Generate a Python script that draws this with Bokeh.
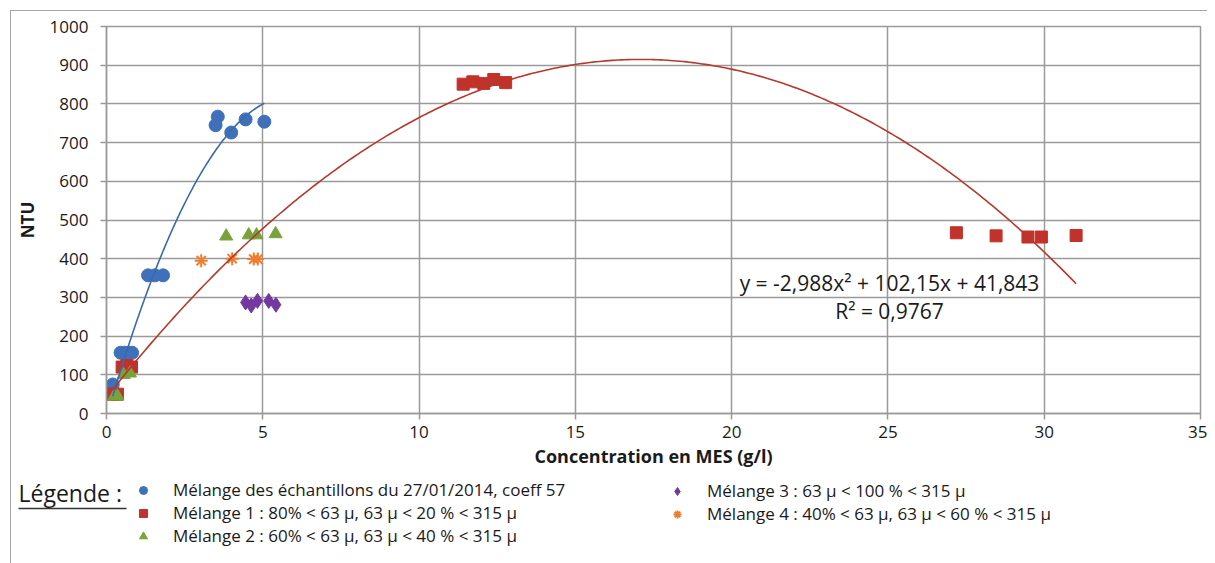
import numpy as np
from bokeh.plotting import figure
from bokeh.layouts import column, row
from bokeh.models import FixedTicker, Legend, LegendItem, Label, Range1d
from bokeh.embed import file_html
from bokeh.resources import INLINE

# ---------------- data ----------------
x_ticks = [0, 5, 10, 15, 20, 25, 30, 35]
y_ticks = [0, 100, 200, 300, 400, 500, 600, 700, 800, 900, 1000]

blue_label = "Mélange des échantillons du 27/01/2014, coeff 57"
blue_x = [0.2, 0.45, 0.58, 0.7, 0.82, 1.33, 1.55, 1.81, 3.49, 3.56, 3.99, 4.45, 5.05]
blue_y = [75, 157, 157, 157, 157, 357, 357, 357, 745, 767, 726, 760, 754]

m1_label = "Mélange 1 : 80% < 63 µ, 63 µ < 20 % < 315 µ"
m1_x = [0.2, 0.35, 0.5, 0.65, 0.8, 11.41, 11.72, 12.07, 12.39, 12.77, 27.19, 28.46, 29.48, 29.91, 31.02]
m1_y = [50, 50, 120, 124, 120, 851, 857, 853, 863, 855, 467, 459, 456, 456, 460]

m2_label = "Mélange 2 : 60% < 63 µ, 63 µ < 40 % < 315 µ"
m2_x = [0.25, 0.35, 0.55, 0.75, 3.83, 4.55, 4.8, 5.41]
m2_y = [45, 45, 100, 104, 458, 461, 461, 464]

m3_label = "Mélange 3 : 63 µ < 100 % < 315 µ"
m3_x = [4.45, 4.63, 4.83, 5.19, 5.42]
m3_y = [287, 279, 291, 291, 281]

m4_label = "Mélange 4 : 40% < 63 µ, 63 µ < 60 % < 315 µ"
m4_x = [3.03, 4.02, 4.71, 4.84]
m4_y = [395, 400, 399, 399]

# trendline coefficients (a x^2 + b x + c)
red_fit = [-2.988, 102.15, 41.843]
blue_fit = [-23.69, 280.4, -10.2]
eq_text = "y = -2,988x² + 102,15x + 41,843"
r2_text = "R² = 0,9767"
legend_title = "Légende :"

# ---------------- styles ----------------
FONT = "Open Sans"
C_BLUE = "#3F71BA"
C_RED = "#C0322B"
C_GREEN = "#77A33A"
C_PURPLE = "#7439A0"
C_ORANGE = "#EF7D2E"
GRID = "#9a9a9a"
TXT = "#1a1a1a"

OFFS = 11          # outer frame margin + border
W = 1207 - OFFS
H1 = 478 - OFFS
H2 = 85

p = figure(width=W, height=H1, x_range=(0, 35), y_range=(0, 1000),
           output_backend="svg", toolbar_location=None,
           min_border_left=106 - OFFS, min_border_right=7, min_border_top=26 - OFFS,
           min_border_bottom=65)

p.xaxis.ticker = FixedTicker(ticks=x_ticks)
p.yaxis.ticker = FixedTicker(ticks=y_ticks)
p.xaxis.axis_label = "Concentration en MES (g/l)"
p.yaxis.axis_label = "NTU"
for ax in (p.xaxis[0], p.yaxis[0]):
    ax.major_label_text_font = FONT
    ax.major_label_text_font_size = "17px"
    ax.major_label_text_color = TXT
    ax.axis_line_color = GRID
    ax.axis_line_width = 1.5
    ax.major_tick_line_color = GRID
    ax.major_tick_line_width = 1.5
    ax.major_tick_out = 6
    ax.major_tick_in = 0
    ax.minor_tick_line_color = None
    ax.axis_label_text_font = FONT
    ax.axis_label_text_font_size = "18px"
    ax.axis_label_text_font_style = "bold"
    ax.axis_label_text_color = TXT
p.yaxis.axis_label_text_font_size = "17px"
p.yaxis.major_label_standoff = 12
p.xaxis.major_label_standoff = 6
p.xaxis.axis_label_standoff = 3
p.yaxis.axis_label_standoff = 8

p.grid.grid_line_color = GRID
p.grid.grid_line_width = 1.5
p.outline_line_color = GRID
p.outline_line_width = 1.5
p.background_fill_color = "white"
p.border_fill_color = "white"

STY_BLUE = dict(marker="circle", fill_color=C_BLUE, line_color=C_BLUE)
STY_M1 = dict(marker="square", fill_color=C_RED, line_color=C_RED)
STY_M2 = dict(marker="triangle", fill_color=C_GREEN, line_color=C_GREEN)
STY_M3 = dict(marker="diamond", fill_color=C_PURPLE, line_color=C_PURPLE)
STY_M4 = dict(marker="asterisk", line_color=C_ORANGE, line_width=2)

# markers
p.scatter(blue_x, blue_y, size=13, **STY_BLUE)
p.scatter(m1_x, m1_y, size=12, **STY_M1)
p.scatter(m2_x, m2_y, size=13, **STY_M2)
p.scatter(m3_x, m3_y, size=15, **STY_M3)
p.scatter(m4_x, m4_y, size=13, **STY_M4)

# trendlines
xb = np.linspace(min(blue_x), max(blue_x), 100)
p.line(xb, np.polyval(blue_fit, xb), line_color="#3C69AE", line_width=1.6)
xr = np.linspace(min(m1_x), max(m1_x), 300)
p.line(xr, np.polyval(red_fit, xr), line_color="#B5392C", line_width=1.6)

p.add_layout(Label(x=25.05, y=337, text=eq_text, text_align="center", text_baseline="middle",
                   text_font=FONT, text_font_size="21px", text_color=TXT))
p.add_layout(Label(x=25.05, y=265, text=r2_text, text_align="center", text_baseline="middle",
                   text_font=FONT, text_font_size="21px", text_color=TXT))

# ---------------- legend panel (pixel coordinates, y downward) ----------------
p2 = figure(width=W, height=H2, x_range=Range1d(0, W), y_range=Range1d(H2, 0),
            output_backend="svg", toolbar_location=None,
            min_border_left=0, min_border_right=0, min_border_top=0, min_border_bottom=0)
p2.axis.visible = False
p2.grid.visible = False
p2.outline_line_color = None
p2.background_fill_color = "white"
p2.border_fill_color = "white"

# off-screen stand-ins so that legend glyphs are drawn
OFF = [-1000]
lr_blue = p2.scatter(OFF, OFF, **STY_BLUE)
lr_m1 = p2.scatter(OFF, OFF, **STY_M1)
lr_m2 = p2.scatter(OFF, OFF, **STY_M2)
lr_m3 = p2.scatter(OFF, OFF, **STY_M3)
lr_m4 = p2.scatter(OFF, OFF, **STY_M4)

def make_legend(items, loc):
    return Legend(items=items, location=loc, orientation="vertical", padding=0, spacing=0,
                  margin=0, glyph_width=20, glyph_height=20, label_height=20,
                  label_standoff=20, label_text_font=FONT, label_text_font_size="17px",
                  label_text_color=TXT, border_line_color=None,
                  background_fill_alpha=0)

leg1 = make_legend([LegendItem(label=blue_label, renderers=[lr_blue]),
                    LegendItem(label=m1_label, renderers=[lr_m1]),
                    LegendItem(label=m2_label, renderers=[lr_m2])], (133 - OFFS, 16))
leg2 = make_legend([LegendItem(label=m3_label, renderers=[lr_m3]),
                    LegendItem(label=m4_label, renderers=[lr_m4])], (667 - OFFS, 38))
p2.add_layout(leg1)
p2.add_layout(leg2)

p2.add_layout(Label(x=18 - OFFS, y=14, text=legend_title, text_baseline="middle",
                    text_font=FONT, text_font_size="23px", text_color=TXT))
p2.segment(x0=[18 - OFFS], y0=[30], x1=[126 - OFFS], y1=[30], line_color="#333333", line_width=1.5)

layout = column(p, row(p2), spacing=0, margin=(10, 0, 0, 10),
                styles={"border-left": "1px solid #a6a6a6", "border-top": "1px solid #a6a6a6"})
open("out.html", "w").write(file_html(layout, INLINE))
